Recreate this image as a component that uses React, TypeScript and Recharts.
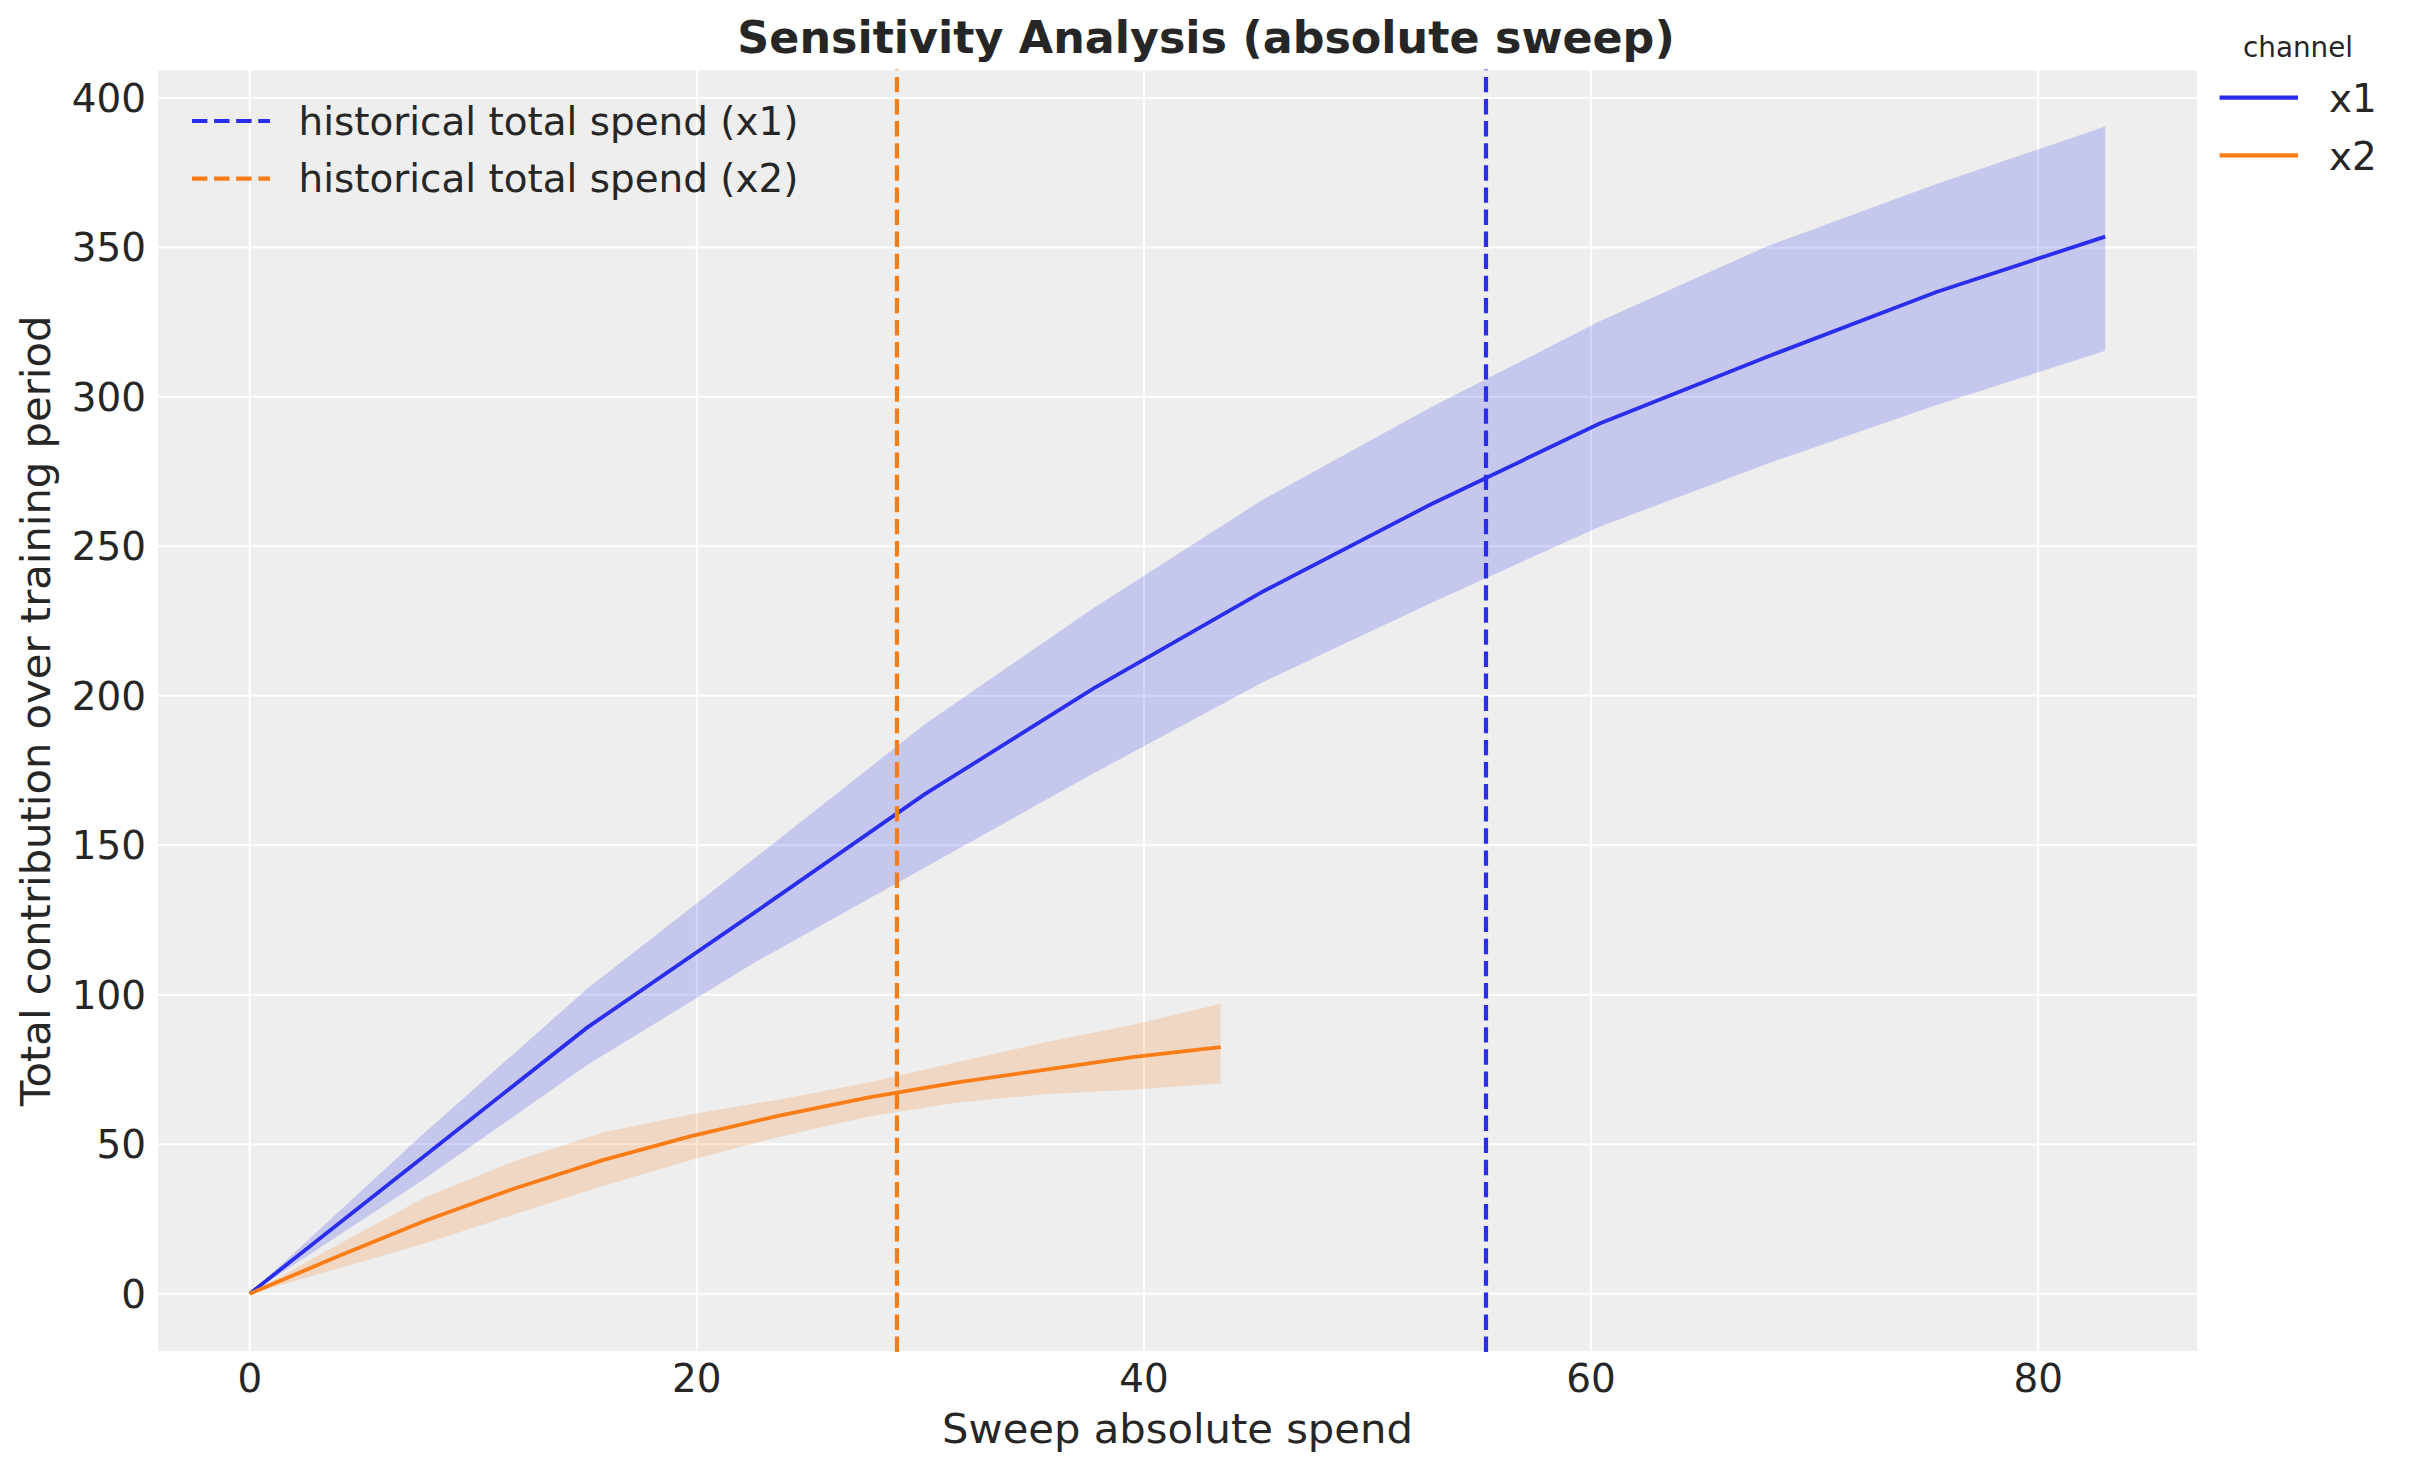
import React from "react";
import {
  ComposedChart,
  Area,
  Line,
  XAxis,
  YAxis,
  CartesianGrid,
  ReferenceLine,
} from "recharts";

// sweep values (absolute spend) per channel
const x1Spend = [0, 7.545, 15.09, 22.64, 30.18, 37.73, 45.27, 52.82, 60.36, 67.91, 75.45, 83.0];
const x1Mean = [0, 44.5, 89, 127.8, 167, 202.4, 234.7, 264, 291, 313.5, 335.1, 353.6];
const x1Low = [0, 37, 76.5, 111, 142.5, 174, 204.4, 231, 256.5, 277.7, 297.3, 315.4];
const x1High = [0, 52, 102, 146, 190.4, 229.3, 265.4, 296.4, 325.2, 350.5, 371.2, 390.4];

const x2Spend = [0, 3.95, 7.9, 11.84, 15.79, 19.74, 23.69, 27.64, 31.58, 35.53, 39.48, 43.43];
const x2Mean = [0, 12.5, 24.6, 35.2, 44.7, 52.7, 59.6, 65.6, 70.6, 74.9, 79.1, 82.5];
const x2Low = [0, 8.4, 17.0, 26.6, 36.0, 44.7, 52.5, 59.2, 63.9, 66.7, 68.2, 70.4];
const x2High = [0, 16.5, 32.4, 44.4, 53.9, 60.0, 65.0, 70.6, 77.3, 84.0, 89.9, 97.0];

const historicalSpend = { x1: 55.3, x2: 28.95 };

const xTicks = [0, 20, 40, 60, 80];
const yTicks = [0, 50, 100, 150, 200, 250, 300, 350, 400];

const COLORS = {
  x1: "#2a2eec",
  x2: "#fa7c17",
  text: "#262626",
  bg: "#eeeeee",
};

const FONT = "DejaVu Sans";

const buildSeries = (spend: number[], mean: number[], low: number[], high: number[]) =>
  spend.map((s, i) => ({ spend: s, mean: mean[i], band: [low[i], high[i]] }));

const x1Data = buildSeries(x1Spend, x1Mean, x1Low, x1High);
const x2Data = buildSeries(x2Spend, x2Mean, x2Low, x2High);

const DASH = "15.4 6.7";

export default function App() {
  return (
    <div
      style={{
        position: "absolute",
        left: 0,
        top: 0,
        width: 2412,
        height: 1473,
        background: "#fff",
        fontFamily: FONT,
      }}
    >
      <ComposedChart
        width={2412}
        height={1473}
        margin={{ top: 69.5, right: 214, bottom: 61, left: 57 }}
      >
        <CartesianGrid fill={COLORS.bg} fillOpacity={1} stroke="#ffffff" strokeWidth={2} />
        <XAxis
          type="number"
          dataKey="spend"
          domain={[-4.15, 87.15]}
          allowDataOverflow
          ticks={xTicks}
          height={60}
          axisLine={false}
          tickLine={false}
          tickSize={0}
          tickMargin={12}
          tick={{ fontSize: 38.9, fill: COLORS.text, fontFamily: FONT }}
        />
        <YAxis
          type="number"
          domain={[-19.5, 409.5]}
          allowDataOverflow
          ticks={yTicks}
          width={100}
          axisLine={false}
          tickLine={false}
          tickSize={0}
          tickMargin={11}
          tick={{ fontSize: 38.9, fill: COLORS.text, fontFamily: FONT }}
        />
        <Area
          data={x1Data}
          dataKey="band"
          type="linear"
          fill={COLORS.x1}
          fillOpacity={0.2}
          stroke="none"
          isAnimationActive={false}
          activeDot={false}
        />
        <Area
          data={x2Data}
          dataKey="band"
          type="linear"
          fill={COLORS.x2}
          fillOpacity={0.2}
          stroke="none"
          isAnimationActive={false}
          activeDot={false}
        />
        <Line
          data={x1Data}
          dataKey="mean"
          type="linear"
          stroke={COLORS.x1}
          strokeWidth={3.8}
          dot={false}
          activeDot={false}
          isAnimationActive={false}
        />
        <Line
          data={x2Data}
          dataKey="mean"
          type="linear"
          stroke={COLORS.x2}
          strokeWidth={3.8}
          dot={false}
          activeDot={false}
          isAnimationActive={false}
        />
        <ReferenceLine
          x={historicalSpend.x1}
          stroke={COLORS.x1}
          strokeWidth={4.2}
          strokeDasharray={DASH}
        />
        <ReferenceLine
          x={historicalSpend.x2}
          stroke={COLORS.x2}
          strokeWidth={4.2}
          strokeDasharray={DASH}
        />
      </ComposedChart>

      {/* titles, axis labels and the two legends */}
      <svg
        width={2412}
        height={1473}
        style={{ position: "absolute", left: 0, top: 0, pointerEvents: "none" }}
        fontFamily={FONT}
        fill={COLORS.text}
      >
        <text x={1206} y={53} textAnchor="middle" fontSize={44.4} fontWeight="bold">
          Sensitivity Analysis (absolute sweep)
        </text>
        <text x={1177.5} y={1443} textAnchor="middle" fontSize={41.7}>
          Sweep absolute spend
        </text>
        <text
          transform="translate(49.5,710.75) rotate(-90)"
          textAnchor="middle"
          fontSize={41.7}
        >
          Total contribution over training period
        </text>

        <line x1={192} x2={270} y1={121} y2={121} stroke={COLORS.x1} strokeWidth={4.2} strokeDasharray={DASH} />
        <text x={298.5} y={134.5} fontSize={38.9}>historical total spend (x1)</text>
        <line x1={192} x2={270} y1={178.7} y2={178.7} stroke={COLORS.x2} strokeWidth={4.2} strokeDasharray={DASH} />
        <text x={298.5} y={192.2} fontSize={38.9}>historical total spend (x2)</text>

        <text x={2298} y={57.3} textAnchor="middle" fontSize={27.8}>channel</text>
        <line x1={2219.5} x2={2298} y1={97.6} y2={97.6} stroke={COLORS.x1} strokeWidth={4.2} />
        <text x={2329} y={112} fontSize={38.9}>x1</text>
        <line x1={2219.5} x2={2298} y1={155.4} y2={155.4} stroke={COLORS.x2} strokeWidth={4.2} />
        <text x={2329} y={170} fontSize={38.9}>x2</text>
      </svg>
    </div>
  );
}
